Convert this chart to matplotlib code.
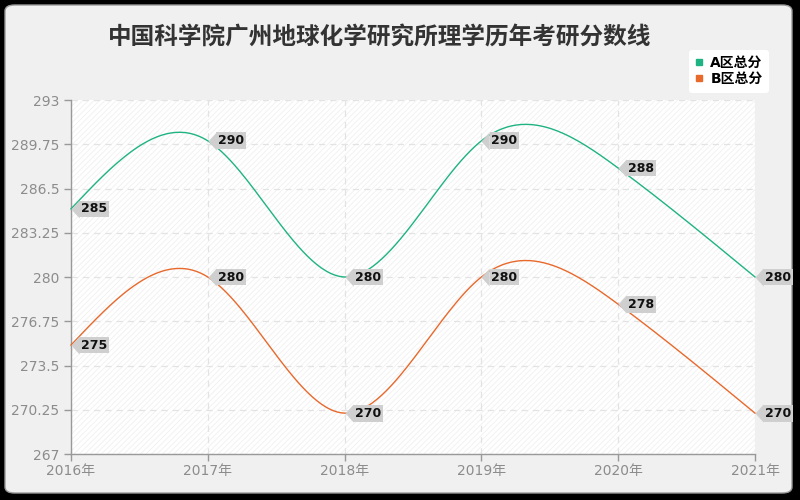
import numpy as np
import matplotlib
matplotlib.use("Agg")
import matplotlib.pyplot as plt
from matplotlib.patches import FancyBboxPatch, Rectangle
from matplotlib.lines import Line2D

plt.rcParams['font.family'] = ['DejaVu Sans', 'Noto Sans CJK SC']

title = "中国科学院广州地球化学研究所理学历年考研分数线"
years = [2016, 2017, 2018, 2019, 2020, 2021]
year_labels = ["2016年", "2017年", "2018年", "2019年", "2020年", "2021年"]
series_names = ["A区总分", "B区总分"]
a_scores = [285, 290, 280, 290, 288, 280]
b_scores = [275, 280, 270, 280, 278, 270]
y_ticks = [267, 270.25, 273.5, 276.75, 280, 283.25, 286.5, 289.75, 293]
colors = ["#1fb383", "#e8692c"]


def natural_spline(xs, ys, n=60):
    xs = np.asarray(xs, float)
    ys = np.asarray(ys, float)
    m = len(xs)
    h = np.diff(xs)
    A = np.zeros((m, m))
    r = np.zeros(m)
    A[0, 0] = A[-1, -1] = 1
    for i in range(1, m - 1):
        A[i, i - 1] = h[i - 1]
        A[i, i] = 2 * (h[i - 1] + h[i])
        A[i, i + 1] = h[i]
        r[i] = 6 * ((ys[i + 1] - ys[i]) / h[i] - (ys[i] - ys[i - 1]) / h[i - 1])
    M = np.linalg.solve(A, r)
    outx, outy = [], []
    for i in range(m - 1):
        t = np.linspace(0, 1, n)
        hi = h[i]
        x = xs[i] + t * hi
        y = (ys[i] * (1 - t) + ys[i + 1] * t
             + hi ** 2 / 6 * (((1 - t) ** 3 - (1 - t)) * M[i] + (t ** 3 - t) * M[i + 1]))
        outx.append(x)
        outy.append(y)
    return np.concatenate(outx), np.concatenate(outy)


fig = plt.figure(figsize=(8, 5), dpi=100, facecolor="black")
panel = FancyBboxPatch((5 / 800, 7 / 500), 787 / 800, 488 / 500,
                       boxstyle="round,pad=0,rounding_size=0.012",
                       transform=fig.transFigure, facecolor="#f0f0f0",
                       edgecolor="#9a9a9a", linewidth=1.0, zorder=-10)
fig.patches.append(panel)

ax = fig.add_axes([71 / 800, 46 / 500, 684 / 800, 354 / 500], zorder=1)
ax.set_facecolor("#ffffff")
plt.rcParams['hatch.linewidth'] = 0.6
ax.add_patch(Rectangle((0, 0), 1, 1, transform=ax.transAxes, facecolor="none",
                       edgecolor="#f0f0f0", hatch="//////", linewidth=0, zorder=0))

ax.set_xlim(years[0], years[-1])
ax.set_ylim(y_ticks[0], y_ticks[-1])
ax.set_yticks(y_ticks)
ax.set_yticklabels(["{:g}".format(v) for v in y_ticks])
ax.set_xticks(years)
ax.set_xticklabels(year_labels)
for lab in ax.get_xticklabels():
    lab.set_clip_on(False)

ax.grid(True, color="#e3e3e3", linestyle=(0, (5, 4)), linewidth=0.9)
ax.set_axisbelow(True)
for s in ["top", "right"]:
    ax.spines[s].set_visible(False)
for s in ["left", "bottom"]:
    ax.spines[s].set_color("#999999")
    ax.spines[s].set_linewidth(1.0)
ax.tick_params(axis="both", colors="#999999", labelcolor="#8c8c8c",
               labelsize=10, length=5, width=1)
ax.tick_params(axis="x", pad=2)

tip = [(0, 0), (1, 1.1), (1, -1.1)]
for vals, col, name in zip([a_scores, b_scores], colors, series_names):
    sx, sy = natural_spline(years, vals)
    ax.plot(sx, sy, color=col, linewidth=1.0, zorder=3, clip_on=False)
    for x, v in zip(years, vals):
        ax.plot([x], [v], marker=tip, markersize=13, color="#cfcfcf",
                markeredgewidth=0, linestyle="none", zorder=4, clip_on=False)
        ax.annotate("{:d}".format(v), (x, v), xytext=(10, 0),
                    textcoords="offset pixels", ha="left", va="center",
                    fontsize=9, fontweight="bold", color="#111111",
                    bbox=dict(boxstyle="square,pad=0.15", fc="#cfcfcf", ec="none"),
                    zorder=5, annotation_clip=False)

handles = [Line2D([], [], marker="s", linestyle="none", markersize=5,
                  color=c) for c in colors]
leg = fig.legend(handles, series_names, loc="upper right",
                 bbox_to_anchor=(776 / 800, 1 - 43 / 500), frameon=True,
                 fancybox=True, framealpha=1, edgecolor="none",
                 facecolor="white", handlelength=0.6, handletextpad=0.5,
                 borderpad=0.45, labelspacing=0.15,
                 prop={"size": 10, "weight": "bold",
                       "family": ["DejaVu Sans", "Noto Sans CJK SC"]})
leg.set_zorder(5)

fig.text(380 / 800, 1 - 38 / 500, title, ha="center", va="center",
         fontsize=17, fontweight="bold", color="#333333",
         family=["Noto Sans CJK SC", "DejaVu Sans"])

fig.savefig("out.png", dpi=100, facecolor=fig.get_facecolor())
